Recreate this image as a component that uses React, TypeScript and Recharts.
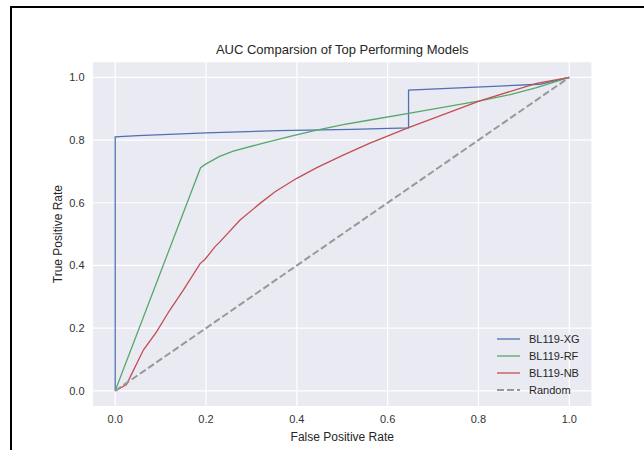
import { CartesianGrid, Label, Legend, Line, LineChart, XAxis, YAxis } from "recharts";

const FONT = '"Liberation Sans", Arial, sans-serif';

// ROC points (false positive rate / true positive rate)
const xgFpr = [0, 0, 0.05, 0.2, 0.36, 0.52, 0.646, 0.646, 0.935, 1];
const xgTpr = [0, 0.81, 0.814, 0.823, 0.83, 0.834, 0.839, 0.959, 0.978, 1];

const rfFpr = [0, 0.188, 0.2, 0.23, 0.26, 0.32, 0.385, 0.444, 0.502, 0.561, 0.646, 0.803, 0.87, 0.928, 1];
const rfTpr = [0, 0.712, 0.724, 0.748, 0.765, 0.788, 0.812, 0.832, 0.849, 0.864, 0.885, 0.925, 0.945, 0.967, 1];

const nbFpr = [
  0, 0.025, 0.035, 0.062, 0.091, 0.12, 0.15, 0.187, 0.198, 0.22, 0.231, 0.275, 0.319, 0.352, 0.4, 0.444,
  0.502, 0.561, 0.646, 0.803, 0.928, 1
];
const nbTpr = [
  0, 0.02, 0.05, 0.13, 0.188, 0.257, 0.321, 0.406, 0.42, 0.46, 0.476, 0.545, 0.598, 0.635, 0.678, 0.712,
  0.752, 0.79, 0.84, 0.925, 0.981, 1
];

const randomFpr = [0, 1];
const randomTpr = [0, 1];

const xTicks = [0, 0.2, 0.4, 0.6, 0.8, 1.0];
const yTicks = [0, 0.2, 0.4, 0.6, 0.8, 1.0];

const toPoints = (fpr: number[], tpr: number[]) => fpr.map((x, i) => ({ fpr: x, tpr: tpr[i] }));

const series = [
  { name: "BL119-XG", color: "#4C72B0", width: 1.3, dash: undefined, points: toPoints(xgFpr, xgTpr) },
  { name: "BL119-RF", color: "#55A868", width: 1.3, dash: undefined, points: toPoints(rfFpr, rfTpr) },
  { name: "BL119-NB", color: "#C44E52", width: 1.3, dash: undefined, points: toPoints(nbFpr, nbTpr) },
  { name: "Random", color: "#98989c", width: 2, dash: "7 3", points: toPoints(randomFpr, randomTpr) }
];

function LegendBox() {
  return (
    <div style={{ fontFamily: FONT, fontSize: 11, color: "#262626" }}>
      {series.map((s) => (
        <div key={s.name} style={{ display: "flex", alignItems: "center", height: 17 }}>
          <svg width={24} height={6}>
            <line x1={0} y1={3} x2={23} y2={3} stroke={s.color} strokeWidth={s.width} strokeDasharray={s.dash} />
          </svg>
          <span style={{ marginLeft: 8 }}>{s.name}</span>
        </div>
      ))}
    </div>
  );
}

export default function App() {
  return (
    <div style={{ position: "absolute", left: 0, top: 0, width: 644, height: 450, background: "#fff" }}>
      <div style={{ position: "absolute", left: 10, top: 6, width: 634, height: 2, background: "#000" }} />
      <div style={{ position: "absolute", left: 10, top: 6, width: 2, height: 444, background: "#000" }} />
      <div
        style={{
          position: "absolute",
          left: 92.5,
          width: 499.5,
          top: 43,
          textAlign: "center",
          fontFamily: FONT,
          fontSize: 13,
          lineHeight: "13px",
          color: "#262626"
        }}
      >
        AUC Comparsion of Top Performing Models
      </div>
      <LineChart width={644} height={450} margin={{ top: 61.7, right: 52, bottom: 0, left: 0 }}>
        <CartesianGrid fill="#EAEAF2" stroke="#ffffff" strokeWidth={1.2} />
        <XAxis
          type="number"
          dataKey="fpr"
          domain={[-0.05, 1.05]}
          ticks={xTicks}
          allowDataOverflow
          height={43.5}
          axisLine={false}
          tickLine={false}
          tickSize={0}
          tickMargin={9}
          tickFormatter={(v: number) => v.toFixed(1)}
          tick={{ fill: "#333", fontSize: 11, fontFamily: FONT }}
        >
          <Label
            content={({ viewBox }: any) => (
              <text
                x={viewBox.x + viewBox.width / 2}
                y={437}
                textAnchor="middle"
                dominantBaseline="central"
                fontSize={12}
                fontFamily={FONT}
                fill="#262626"
              >
                False Positive Rate
              </text>
            )}
          />
        </XAxis>
        <YAxis
          type="number"
          dataKey="tpr"
          domain={[-0.05, 1.05]}
          ticks={yTicks}
          allowDataOverflow
          width={92.5}
          axisLine={false}
          tickLine={false}
          tickSize={0}
          tickMargin={8}
          tickFormatter={(v: number) => v.toFixed(1)}
          tick={{ fill: "#333", fontSize: 11, fontFamily: FONT }}
        >
          <Label
            content={({ viewBox }: any) => {
              const cy = viewBox.y + viewBox.height / 2;
              return (
                <text
                  x={58}
                  y={cy}
                  transform={`rotate(-90 58 ${cy})`}
                  textAnchor="middle"
                  dominantBaseline="central"
                  fontSize={12}
                  fontFamily={FONT}
                  fill="#262626"
                >
                  True Positive Rate
                </text>
              );
            }}
          />
        </YAxis>
        {series.map((s) => (
          <Line
            key={s.name}
            data={s.points}
            dataKey="tpr"
            name={s.name}
            type="linear"
            stroke={s.color}
            strokeWidth={s.width}
            strokeDasharray={s.dash}
            dot={false}
            activeDot={false}
            isAnimationActive={false}
          />
        ))}
        <Legend
          layout="vertical"
          align="center"
          verticalAlign="middle"
          content={<LegendBox />}
          wrapperStyle={{ position: "absolute", left: 497, top: 330.5, width: 100 }}
        />
      </LineChart>
    </div>
  );
}
